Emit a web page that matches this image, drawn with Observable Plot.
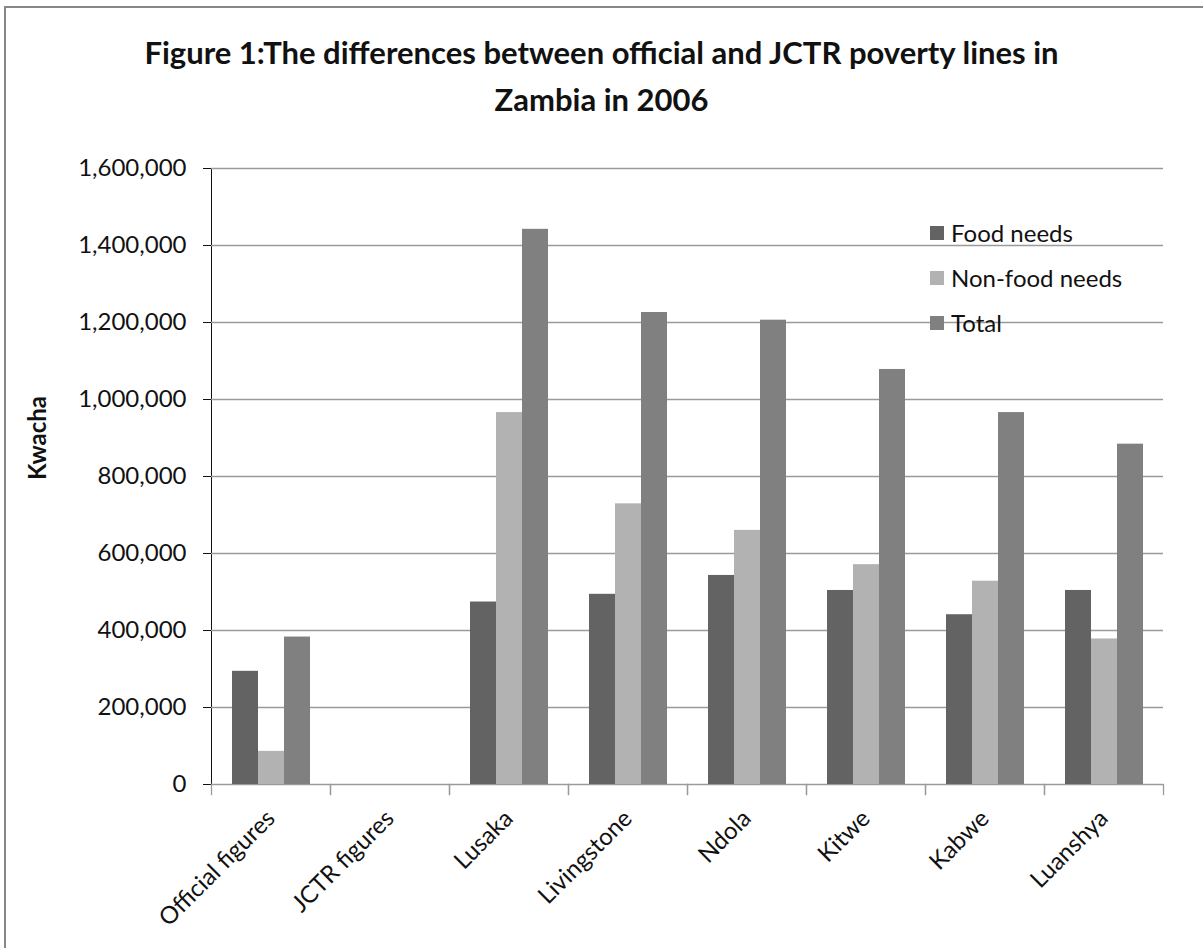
<!DOCTYPE html>
<html>
<head>
<meta charset="utf-8">
<script src="https://cdn.jsdelivr.net/npm/d3@7"></script>
<script src="https://cdn.jsdelivr.net/npm/@observablehq/plot@0.6"></script>
<style>
  html, body { margin: 0; padding: 0; background: #fff; overflow: hidden; }
  #chart { position: relative; width: 1203px; height: 948px; font-family: Lato, "Open Sans", sans-serif; color: #111; }
  #box { position: absolute; left: 4px; top: 6px; width: 1400px; height: 1100px; border: 2px solid #878787; box-sizing: border-box; }
  #title { position: absolute; left: 0; top: 29px; width: 1203px; text-align: center; font-weight: bold; font-size: 31px; line-height: 47px; }
  #plot { position: absolute; left: 0; top: 0; }
  #ylabel { position: absolute; left: 36px; top: 438px; transform: translate(-50%, -50%) rotate(-90deg); font-weight: bold; font-size: 24px; white-space: nowrap; }
  #legend { position: absolute; left: 930px; top: 210px; }
  #legend [class$="-swatch"] { height: 45px; line-height: 45px; margin: 0; padding: 0; }
  #legend svg { margin-right: 7px !important; }
</style>
</head>
<body>
<div id="chart">
  <div id="box"></div>
  <div id="plot"></div>
  <div id="title">Figure 1:The differences between official and JCTR poverty lines in<br>Zambia in 2006</div>
  <div id="ylabel">Kwacha</div>
  <div id="legend"></div>
</div>
<script>
// Poverty line components by location (Kwacha, 2006)
const categories = ["Official figures", "JCTR figures", "Lusaka", "Livingstone", "Ndola", "Kitwe", "Kabwe", "Luanshya"];
const seriesNames = ["Food needs", "Non-food needs", "Total"];
const foodNeeds    = [294000, null, 474000, 494000, 543000, 504000, 441000, 504000];
const nonFoodNeeds = [ 86000, null, 966000, 729000, 660000, 571000, 528000, 378000];
const totals       = [383000, null, 1442000, 1226000, 1206000, 1078000, 966000, 884000];
const yTicks = [0, 200000, 400000, 600000, 800000, 1000000, 1200000, 1400000, 1600000];
const seriesColors = ["#636363", "#b2b2b2", "#808080"];

const seriesValues = [foodNeeds, nonFoodNeeds, totals];
const rows = [];
categories.forEach((city, i) => {
  seriesNames.forEach((series, j) => {
    rows.push({city, series, value: seriesValues[j][i]});
  });
});

const W = 1203, H = 948, mTop = 168, mBottom = 164;
const innerH = H - mTop - mBottom;
const lineColor = "#9a9a9a";
const textFont = "Lato, 'Open Sans', sans-serif";

const chart = Plot.plot({
  width: W,
  height: H,
  marginLeft: 208,
  marginRight: 37,
  marginTop: mTop,
  marginBottom: mBottom,
  style: {fontFamily: textFont, fontSize: "24px", color: "#111", background: "transparent"},
  facet: {data: rows, x: "city"},
  fx: {domain: categories, paddingInner: 0, paddingOuter: 0, tickRotate: -45, tickSize: 0, tickPadding: 30, label: null},
  x: {domain: seriesNames, paddingInner: 0, paddingOuter: 0.75, axis: null},
  y: {domain: [0, 1600000], ticks: yTicks, tickFormat: d3.format(","), tickSize: 8, tickPadding: 17, label: null, line: true},
  color: {domain: seriesNames, range: seriesColors},
  marks: [
    Plot.ruleY(yTicks, {stroke: lineColor, strokeWidth: 1.3}),
    Plot.barY(rows, {x: "series", y: "value", fill: "series"}),
    // category boundary ticks below the baseline
    Plot.frame({anchor: "left", stroke: lineColor, strokeWidth: 1.3, insetTop: innerH, insetBottom: -10}),
    Plot.frame({anchor: "right", stroke: lineColor, strokeWidth: 1.3, insetTop: innerH, insetBottom: -10})
  ]
});
document.getElementById("plot").append(chart);

const legend = Plot.legend({
  color: {domain: seriesNames, range: seriesColors},
  legend: "swatches",
  columns: 1,
  swatchSize: 14,
  style: {fontFamily: textFont, fontSize: "24px", color: "#111"}
});
document.getElementById("legend").append(legend);
</script>
</body>
</html>
